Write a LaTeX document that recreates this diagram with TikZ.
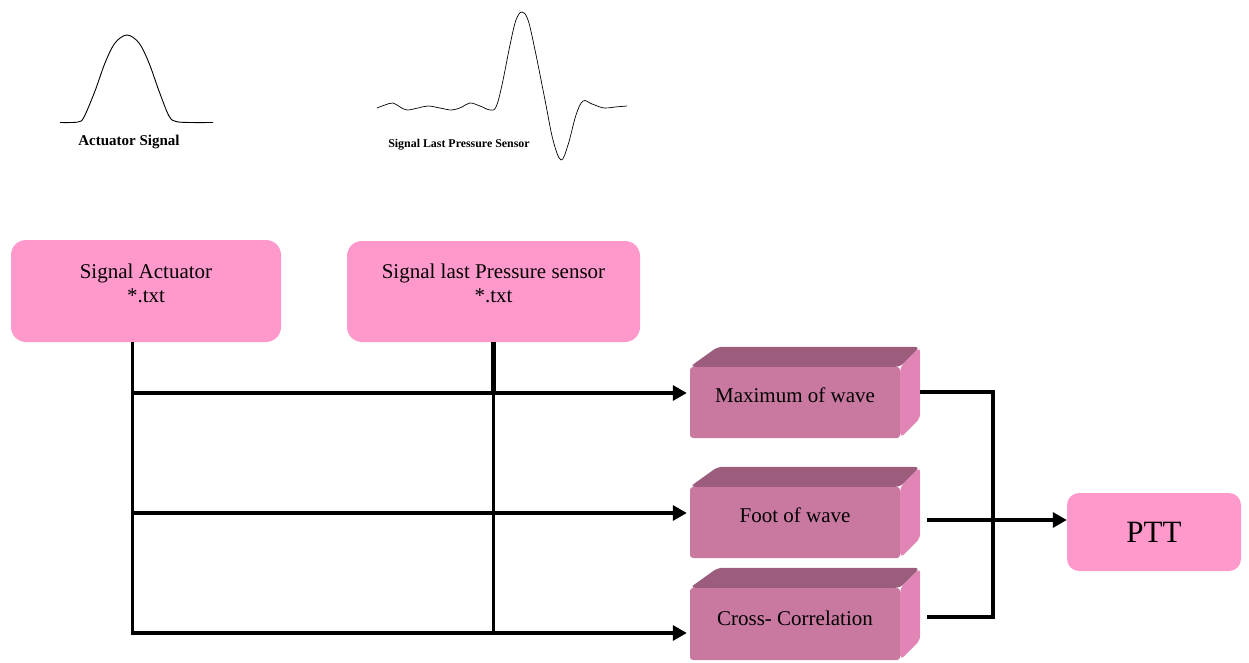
\documentclass[tikz,border=0pt]{standalone}
\usepackage{fontspec}
\setmainfont{Liberation Serif}
\usetikzlibrary{calc,arrows.meta}

\definecolor{boxpink}{RGB}{255,153,204}
\definecolor{facefront}{RGB}{201,121,160}
\definecolor{facetop}{RGB}{156,92,124}
\definecolor{faceside}{RGB}{224,133,181}

\tikzset{
  srcbox/.style={fill=boxpink, rounded corners=15pt, inner sep=0pt},
  boxtext/.style={font=\fontsize{21}{24}\selectfont, align=center, text=black},
  front/.style={fill=facefront, rounded corners=3pt, minimum width=210pt,
                minimum height=71pt, inner sep=0pt},
  wire/.style={line width=3.2pt, black},
  tip/.style={-{Triangle[length=14pt,width=15pt]}},
  wave/.style={line width=0.9pt, black, line join=round},
  wavelabel/.style={font=\bfseries, text=black}
}

\begin{document}
\begin{tikzpicture}[x=1pt,y=-1pt]
\useasboundingbox (0,0) rectangle (1249,663);

% --- signal sketches ---
\draw[wave] plot[smooth, tension=0.55] coordinates {
  (60,122.5) (78,122) (84,117) (95,91) (105,63) (115,43) (127,35)
  (139,43) (149,63) (159,91) (169,116) (176,121.5) (190,122.5) (213,122.5)};
\node[wavelabel, font=\fontsize{15}{17}\selectfont\bfseries] (actlbl) at (129,142) {Actuator Signal};

\draw[wave, line width=0.7pt] plot[smooth, tension=0.6] coordinates {
  (377,108) (385,105) (393,103) (400,107) (407,110) (418,108) (428,106)
  (440,108) (452,110) (462,107) (470,103) (480,106) (490,110) (496,107)
  (502,85) (510,45) (516,20) (522,12) (528,20) (535,50) (545,100)
  (553,140) (561,160) (568,145) (576,115) (583,101) (592,104) (604,108)
  (615,107) (627,106)};
\node[wavelabel, font=\fontsize{11.9}{14}\selectfont\bfseries] (pslbl) at (459,145) {Signal Last Pressure Sensor};

% --- input files ---
\node[srcbox, minimum width=270pt, minimum height=102pt,
      label={[boxtext, yshift=8pt]center:{Signal Actuator\\*.txt}}] (act) at (146,291) {};
\node[srcbox, minimum width=293pt, minimum height=101pt,
      label={[boxtext, yshift=8pt]center:{Signal last Pressure sensor\\*.txt}}] (psen) at (493.5,291.5) {};

% --- processing blocks (front faces) ---
\node[front, label={[boxtext, yshift=7pt]center:Maximum of wave}] (max) at (795,402.5) {};
\node[front, label={[boxtext, yshift=7pt]center:Foot of wave}] (foot) at (795,522.5) {};
\node[front, minimum height=72pt, label={[boxtext, yshift=6pt]center:Cross- Correlation}] (xcorr) at (795,624) {};

% top and side faces of the blocks
\foreach \n in {max,foot,xcorr}{
  \fill[facetop, rounded corners=5pt] (\n.north west) -- ++(28,-20)
       -- ($(\n.north east)+(20,-20)$) -- (\n.north east) -- cycle;
  \fill[faceside, rounded corners=5pt] (\n.north east) -- ++(20,-20)
       -- ($(\n.south east)+(20,-20)$) -- (\n.south east) -- cycle;
}

% --- result ---
\node[srcbox, rounded corners=12pt, minimum width=174pt, minimum height=78pt,
      font=\fontsize{31}{34}\selectfont] (ptt) at (1154,532) {PTT};

% --- connectors ---
\coordinate (abus) at ([xshift=-13.5pt]act.south);
\coordinate (m) at ([yshift=9.5pt]max.west);
\coordinate (f) at ([yshift=9.5pt]foot.west);
\coordinate (c) at ([yshift=-9pt]xcorr.west);

\draw[wire, line width=5pt] (psen.south) -- (psen.south |- m);
\draw[wire] (psen.south |- m) -- (psen.south |- c);

\draw[wire, tip, shorten >=3pt] (abus) |- (c);
\draw[wire, tip, shorten >=3pt] (abus |- m) -- (m);
\draw[wire, tip, shorten >=3pt] (abus |- f) -- (f);

\coordinate (rbus) at (993,392);
\coordinate (mout) at ($(max.east)+(20,-10.5)$);
\coordinate (cout) at ($(xcorr.east)+(27,-7)$);
\coordinate (fout) at ($(foot.east)+(27,-2.5)$);
\draw[wire] (mout) -- (mout -| rbus) -- (cout -| rbus) -- (cout);
\draw[wire, tip] (fout) -- (fout -| ptt.west);
\end{tikzpicture}
\end{document}
